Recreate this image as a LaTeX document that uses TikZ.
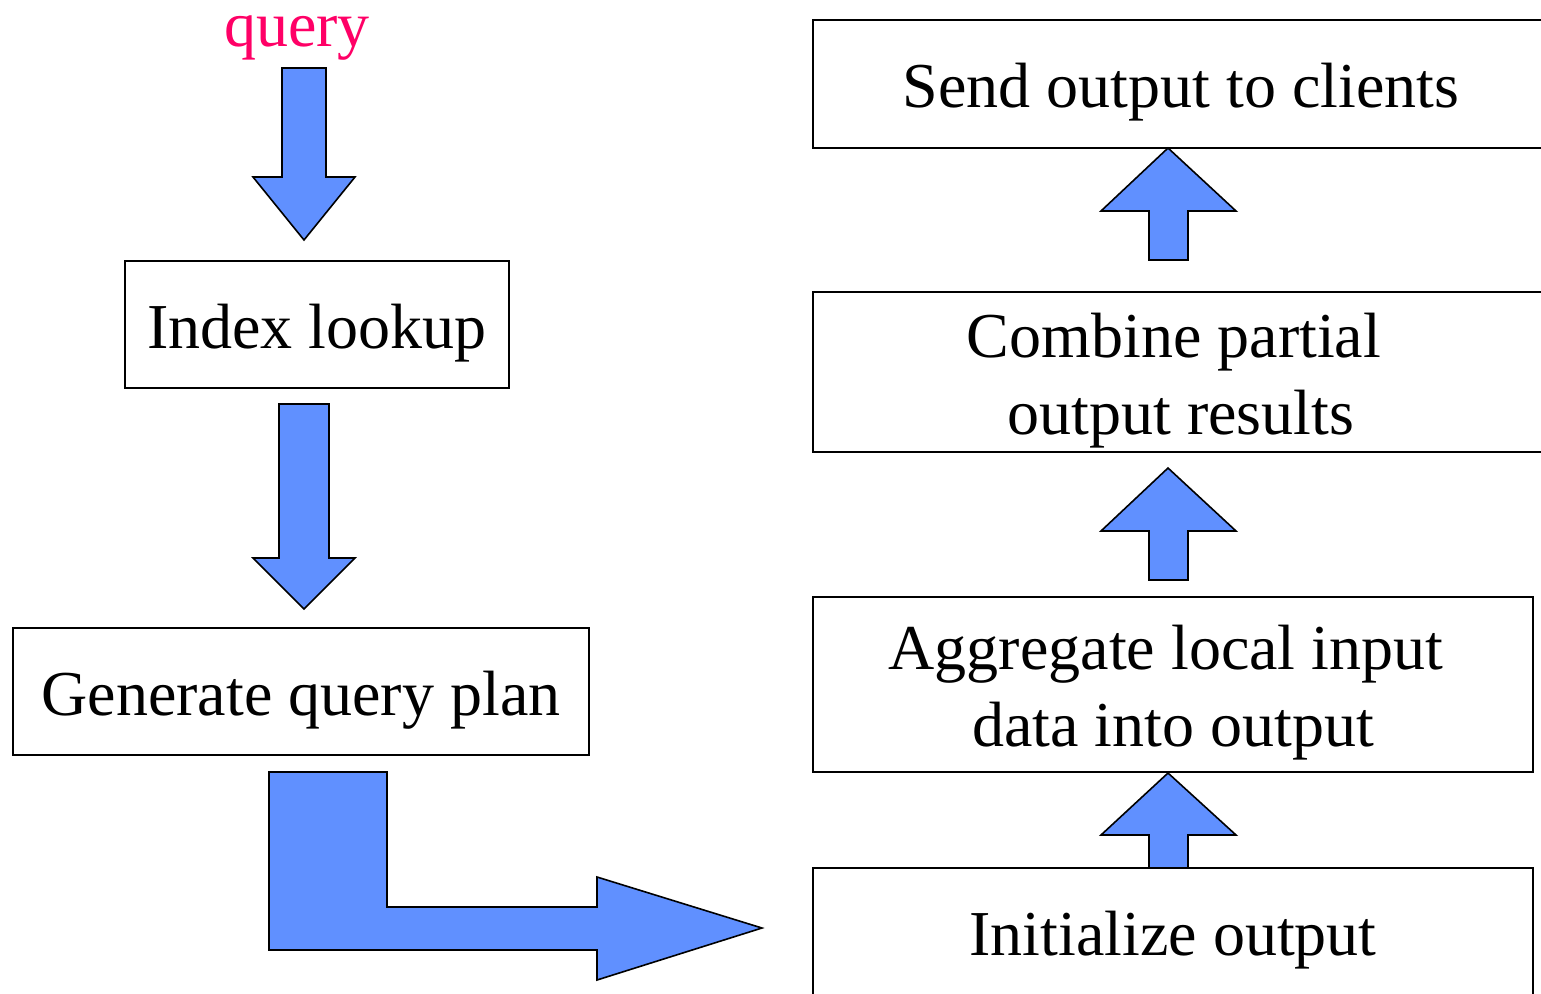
\documentclass[tikz,border=0pt]{standalone}
\usepackage{fontspec}
\setmainfont{Liberation Serif}
\definecolor{arrowblue}{RGB}{96,144,255}
\definecolor{querypink}{RGB}{255,0,102}
% strut that lowers the first line of a box label
\newcommand{\tallstrut}{\rule{0pt}{61pt}}
\begin{document}
\begin{tikzpicture}[x=1pt,y=-1pt,
  stagebox/.style={draw=black, line width=1.6pt, fill=white, inner sep=0pt,
    align=center, font=\fontsize{64}{77}\selectfont},
  blockarrow/.style={draw=black, line width=1.6pt, fill=arrowblue, line join=miter}]
\useasboundingbox (0,0) rectangle (1541,993);
\begin{scope}
\clip (0,0) rectangle (1541,993);

% incoming query label
\node[font=\fontsize{64}{77}\selectfont, text=querypink, anchor=base] (query) at (297,46) {query};

% left column: lookup and planning
\node[stagebox, minimum width=384, minimum height=127] (lookup) at (317,324.5) {\tallstrut Index lookup};
\node[stagebox, minimum width=576, minimum height=127] (plan) at (301,691.5) {\tallstrut Generate query plan};

% right column: processing stages, bottom to top
\node[stagebox, minimum width=736, minimum height=128] (send) at (1181,84) {\tallstrut Send output to clients};
\node[stagebox, minimum width=736, minimum height=160] (combine) at (1181,372) {\tallstrut Combine partial\hspace*{14pt}\\output results};
\node[stagebox, minimum width=720, minimum height=175] (aggregate) at (1173,684.5) {\tallstrut Aggregate local input\hspace*{14pt}\\data into output};
\node[stagebox, minimum width=720, minimum height=128] (init) at (1173,932) {\tallstrut Initialize output};

% downward block arrows
\draw[blockarrow] (282,68) -- (326,68) -- (326,177) -- (355,177) -- (304,240)
  -- (253,177) -- (282,177) -- cycle;
\draw[blockarrow] (279,404) -- (329,404) -- (329,558) -- (355,558) -- (304,609)
  -- (253,558) -- (279,558) -- cycle;

% bent arrow from the plan to the processing stages
\draw[blockarrow] (269,772) -- (387,772) -- (387,907) -- (597,907) -- (597,877)
  -- (762,928) -- (597,980) -- (597,950) -- (269,950) -- cycle;

% upward block arrows between stages
\foreach \tip/\base/\bot in {148/211/260, 468/531/580, 773/835/868}{
  \draw[blockarrow] (1168,\tip) -- (1236,\base) -- (1188,\base) -- (1188,\bot)
    -- (1149,\bot) -- (1149,\base) -- (1101,\base) -- cycle;
}
\end{scope}
\end{tikzpicture}
\end{document}
